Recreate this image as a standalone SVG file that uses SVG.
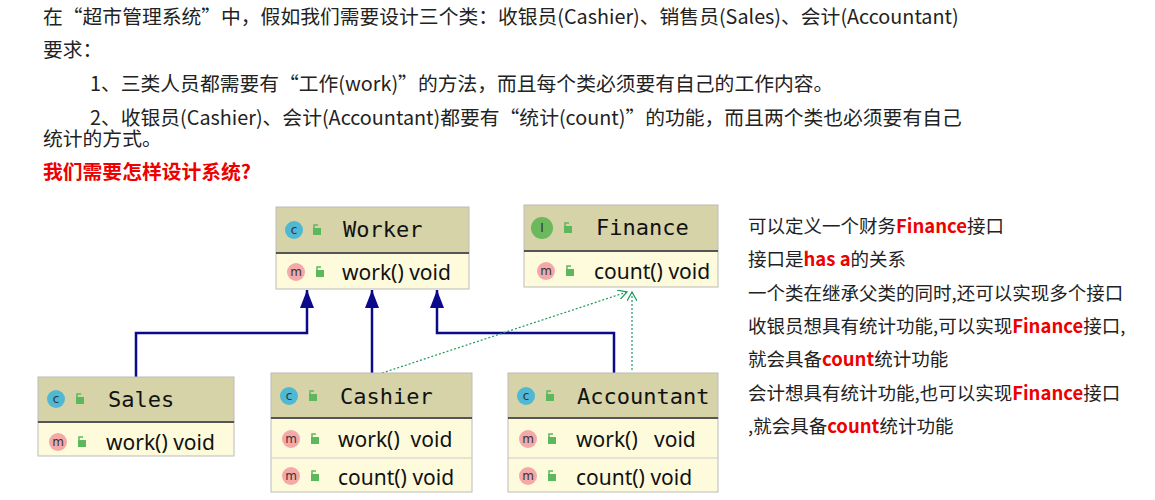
<svg xmlns="http://www.w3.org/2000/svg" width="1155" height="500" viewBox="0 0 1155 500">
<style>
.t{font-family:"Noto Sans CJK SC","Noto Sans",sans-serif;font-size:19.8px;fill:#222}
.t2{font-family:"Noto Sans CJK SC","Noto Sans",sans-serif;font-size:18.5px;fill:#222}
.r{fill:#e00;font-weight:bold}
.hd{fill:#d6d3a8;stroke:#bbb}
.bd{fill:#fdfbdc;stroke:#bbb}
.nm{font-family:"DejaVu Sans Mono",monospace;font-size:22px;fill:#111}
.mt{font-family:"Noto Sans","DejaVu Sans",sans-serif;font-size:21px;fill:#111}
.ic{font-family:"DejaVu Sans",sans-serif;font-size:12px;fill:#333;text-anchor:middle}
.gen{fill:none;stroke:#0a0a8a;stroke-width:2.5}
.imp{fill:none;stroke:#1a9a5a;stroke-width:1.2;stroke-dasharray:2,2}
</style>
<defs>
<g id="lock"><rect x="0" y="4" width="8" height="7" fill="#5cb85c"/><path d="M1,4 V1 H5" fill="none" stroke="#5cb85c" stroke-width="1.5"/></g>
<g id="ci"><circle r="9" fill="#4fb8d3"/><text y="4" class="ic">c</text></g>
<g id="mi"><circle r="9" fill="#f4a8a8"/><text y="4" class="ic">m</text></g>
<marker id="tri" viewBox="0 0 18 14" refX="18" refY="7" markerWidth="18" markerHeight="14" markerUnits="userSpaceOnUse" orient="auto"><path d="M0,0 L18,7 L0,14 Z" fill="#0a0a8a"/></marker>
<marker id="op" viewBox="0 0 10 10" refX="9" refY="5" markerWidth="10" markerHeight="10" markerUnits="userSpaceOnUse" orient="auto"><path d="M0,0 L9,5 L0,10" fill="none" stroke="#1a9a5a" stroke-width="1.2"/></marker>
</defs>
<g id="text">
<text class="t" x="43" y="24">在“超市管理系统”中，假如我们需要设计三个类：收银员(Cashier)、销售员(Sales)、会计(Accountant)</text>
<text class="t" x="43" y="57">要求：</text>
<text class="t" x="90" y="91">1、三类人员都需要有“工作(work)”的方法，而且每个类必须要有自己的工作内容。</text>
<text class="t" x="90" y="125">2、收银员(Cashier)、会计(Accountant)都要有“统计(count)”的功能，而且两个类也必须要有自己</text>
<text class="t" x="43" y="146">统计的方式。</text>
<text class="t r" x="43" y="179">我们需要怎样设计系统?</text>
<text class="t2" x="748" y="233">可以定义一个财务<tspan class="r">Finance</tspan>接口</text>
<text class="t2" x="748" y="266">接口是<tspan class="r">has a</tspan>的关系</text>
<text class="t2" x="748" y="300">一个类在继承父类的同时,还可以实现多个接口</text>
<text class="t2" x="748" y="333">收银员想具有统计功能,可以实现<tspan class="r">Finance</tspan>接口,</text>
<text class="t2" x="748" y="366">就会具备<tspan class="r">count</tspan>统计功能</text>
<text class="t2" x="748" y="400">会计想具有统计功能,也可以实现<tspan class="r">Finance</tspan>接口</text>
<text class="t2" x="748" y="433">,就会具备<tspan class="r">count</tspan>统计功能</text>
</g>
<g id="connectors">
<path class="gen" d="M136,377 V333 H307 V290" marker-end="url(#tri)"/>
<path class="gen" d="M372,373 V290" marker-end="url(#tri)"/>
<path class="gen" d="M614,373 V333 H437 V290" marker-end="url(#tri)"/>
<path class="imp" d="M382,373 L627,292" marker-end="url(#op)"/>
<path class="imp" d="M632,370 V292" marker-end="url(#op)"/>
</g>
<g id="worker">
<rect class="hd" x="276" y="207" width="193" height="46"/><rect class="bd" x="276" y="253" width="193" height="36"/>
<line x1="276" y1="253" x2="469" y2="253" stroke="#555" stroke-width="2"/>
<use href="#ci" x="294" y="230"/><use href="#lock" x="313" y="224"/>
<text class="nm" x="343" y="237">Worker</text>
<use href="#mi" x="296" y="272"/><use href="#lock" x="316" y="266"/>
<text class="mt" x="342" y="280">work() void</text>
</g>
<g id="finance">
<rect class="hd" x="524" y="205" width="194" height="46"/><rect class="bd" x="524" y="251" width="194" height="36"/>
<line x1="524" y1="251" x2="718" y2="251" stroke="#555" stroke-width="2"/>
<circle cx="542" cy="228" r="11" fill="#6cb85c"/><text class="ic" x="542" y="232">I</text><use href="#lock" x="564" y="222"/>
<text class="nm" x="596" y="235">Finance</text>
<use href="#mi" x="546" y="271"/><use href="#lock" x="566" y="265"/>
<text class="mt" x="594" y="279">count() void</text>
</g>
<g id="sales">
<rect class="hd" x="38" y="377" width="196" height="45"/><rect class="bd" x="38" y="422" width="196" height="34"/>
<line x1="38" y1="422" x2="234" y2="422" stroke="#555" stroke-width="2"/>
<use href="#ci" x="56" y="399"/><use href="#lock" x="76" y="393"/>
<text class="nm" x="108" y="407">Sales</text>
<use href="#mi" x="58" y="442"/><use href="#lock" x="78" y="436"/>
<text class="mt" x="106" y="450">work() void</text>
</g>
<g id="cashier">
<rect class="hd" x="271" y="373" width="201" height="45"/><rect class="bd" x="271" y="418" width="201" height="74"/>
<line x1="271" y1="418" x2="472" y2="418" stroke="#555" stroke-width="2"/>
<line x1="271" y1="458" x2="472" y2="458" stroke="#ccc"/>
<use href="#ci" x="289" y="396"/><use href="#lock" x="309" y="390"/>
<text class="nm" x="340" y="404">Cashier</text>
<use href="#mi" x="291" y="439"/><use href="#lock" x="311" y="433"/>
<text class="mt" x="338" y="447" xml:space="preserve">work()  void</text>
<use href="#mi" x="291" y="476"/><use href="#lock" x="311" y="470"/>
<text class="mt" x="338" y="485">count() void</text>
</g>
<g id="accountant">
<rect class="hd" x="508" y="373" width="210" height="45"/><rect class="bd" x="508" y="418" width="210" height="74"/>
<line x1="508" y1="418" x2="718" y2="418" stroke="#555" stroke-width="2"/>
<line x1="508" y1="458" x2="718" y2="458" stroke="#ccc"/>
<use href="#ci" x="526" y="396"/><use href="#lock" x="546" y="390"/>
<text class="nm" x="577" y="404">Accountant</text>
<use href="#mi" x="528" y="439"/><use href="#lock" x="548" y="433"/>
<text class="mt" x="576" y="447" xml:space="preserve">work()   void</text>
<use href="#mi" x="528" y="476"/><use href="#lock" x="548" y="470"/>
<text class="mt" x="576" y="485">count() void</text>
</g>
</svg>
